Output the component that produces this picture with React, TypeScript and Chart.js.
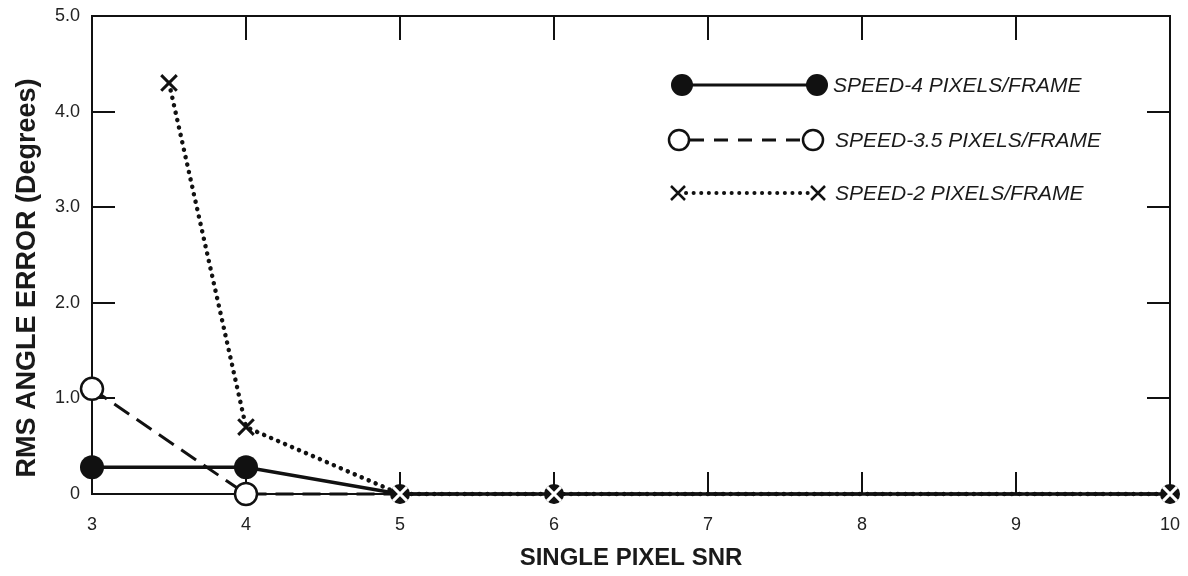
import React, { useEffect, useRef } from 'react';
import { Chart, registerables } from 'chart.js';

Chart.register(...registerables);

const FONT = '"Liberation Sans", Arial, Helvetica, sans-serif';

// ---- data ----
const snrSpeed4 = [3, 4, 5, 6, 10];
const errSpeed4 = [0.28, 0.28, 0, 0, 0];
const snrSpeed35 = [3, 4, 5, 6, 10];
const errSpeed35 = [1.1, 0, 0, 0, 0];
const snrSpeed2 = [3.5, 4, 5, 6, 10];
const errSpeed2 = [4.3, 0.7, 0, 0, 0];
const seriesLabels = ['SPEED-4 PIXELS/FRAME', 'SPEED-3.5 PIXELS/FRAME', 'SPEED-2 PIXELS/FRAME'];
const xTitle = 'SINGLE PIXEL SNR';
const yTitle = 'RMS ANGLE ERROR (Degrees)';
const xRange = [3, 10];
const yRange = [0, 5];

const toPoints = (xs: number[], ys: number[]) => xs.map((x, i) => ({ x, y: ys[i] }));
const isOverlap = (c: any) => c.parsed && c.parsed.x >= 5 && c.parsed.y === 0;

// frame + inward ticks on all four sides
const framePlugin = {
  id: 'frameTicks',
  beforeDatasetsDraw(chart: any) {
    const { ctx, chartArea } = chart;
    const { left, right, top, bottom } = chartArea;
    const xs = chart.scales.x;
    const ys = chart.scales.y;
    ctx.save();
    ctx.strokeStyle = '#111';
    ctx.lineWidth = 2;
    ctx.strokeRect(left, top, right - left, bottom - top);
    ctx.beginPath();
    xs.ticks.forEach((t: any) => {
      if (t.value <= xs.min || t.value >= xs.max) return;
      const px = Math.round(xs.getPixelForValue(t.value));
      ctx.moveTo(px, top);
      ctx.lineTo(px, top + 24);
      ctx.moveTo(px, bottom);
      ctx.lineTo(px, bottom - 22);
    });
    ys.ticks.forEach((t: any) => {
      if (t.value <= ys.min || t.value >= ys.max) return;
      const py = Math.round(ys.getPixelForValue(t.value));
      ctx.moveTo(left, py);
      ctx.lineTo(left + 23, py);
      ctx.moveTo(right, py);
      ctx.lineTo(right - 23, py);
    });
    ctx.stroke();
    ctx.restore();
  },
};

const yTitlePlugin = {
  id: 'yTitle',
  afterDraw(chart: any) {
    const { ctx } = chart;
    ctx.save();
    ctx.translate(28, 278);
    ctx.rotate(-Math.PI / 2);
    ctx.font = `bold 27px ${FONT}`;
    ctx.fillStyle = '#1a1a1a';
    ctx.textAlign = 'center';
    ctx.textBaseline = 'middle';
    ctx.fillText(yTitle, 0, 0);
    ctx.restore();
  },
};

const legendPlugin = {
  id: 'sampleLegend',
  afterDatasetsDraw(chart: any) {
    const { ctx } = chart;
    const rows = [
      { y: 85, x1: 682, x2: 817, tx: 833, kind: 'filled' },
      { y: 140, x1: 679, x2: 813, tx: 835, kind: 'open' },
      { y: 193, x1: 678, x2: 818, tx: 835, kind: 'cross' },
    ];
    ctx.save();
    rows.forEach((r, i) => {
      ctx.strokeStyle = '#111';
      ctx.lineCap = 'butt';
      if (r.kind === 'filled') {
        ctx.lineWidth = 3;
        ctx.setLineDash([]);
        ctx.beginPath();
        ctx.moveTo(r.x1, r.y);
        ctx.lineTo(r.x2, r.y);
        ctx.stroke();
        [r.x1, r.x2].forEach((x) => {
          ctx.beginPath();
          ctx.arc(x, r.y, 11, 0, Math.PI * 2);
          ctx.fillStyle = '#111';
          ctx.fill();
        });
      } else if (r.kind === 'open') {
        ctx.lineWidth = 3;
        ctx.setLineDash([14, 10]);
        ctx.beginPath();
        ctx.moveTo(r.x1 + 11, r.y);
        ctx.lineTo(r.x2 - 11, r.y);
        ctx.stroke();
        ctx.setLineDash([]);
        ctx.lineWidth = 2.5;
        [r.x1, r.x2].forEach((x) => {
          ctx.beginPath();
          ctx.arc(x, r.y, 10, 0, Math.PI * 2);
          ctx.fillStyle = '#fff';
          ctx.fill();
          ctx.stroke();
        });
      } else {
        ctx.lineWidth = 4;
        ctx.lineCap = 'round';
        ctx.setLineDash([0.1, 7.5]);
        ctx.beginPath();
        ctx.moveTo(r.x1 + 8, r.y);
        ctx.lineTo(r.x2 - 8, r.y);
        ctx.stroke();
        ctx.setLineDash([]);
        ctx.lineCap = 'butt';
        ctx.lineWidth = 2.5;
        [r.x1, r.x2].forEach((x) => {
          const d = 7;
          ctx.beginPath();
          ctx.moveTo(x - d, r.y - d);
          ctx.lineTo(x + d, r.y + d);
          ctx.moveTo(x - d, r.y + d);
          ctx.lineTo(x + d, r.y - d);
          ctx.stroke();
        });
      }
      ctx.fillStyle = '#1a1a1a';
      ctx.font = `italic 21px ${FONT}`;
      ctx.textAlign = 'left';
      ctx.textBaseline = 'middle';
      ctx.fillText(seriesLabels[i], r.tx, r.y + 1);
    });
    ctx.restore();
  },
};

export default function App() {
  const ref = useRef<HTMLCanvasElement | null>(null);
  useEffect(() => {
    if (!ref.current) return;
    const chart = new Chart(ref.current, {
      type: 'line',
      data: {
        datasets: [
          {
            label: seriesLabels[0],
            data: toPoints(snrSpeed4, errSpeed4),
            borderColor: '#111',
            backgroundColor: '#111',
            borderWidth: 3.5,
            pointStyle: 'circle',
            pointRadius: (c: any) => (isOverlap(c) ? 10 : 12),
            pointBorderWidth: 0,
            pointBackgroundColor: '#111',
            tension: 0,
            clip: false,
            order: 1,
          },
          {
            label: seriesLabels[1],
            data: toPoints(snrSpeed35, errSpeed35),
            borderColor: '#111',
            backgroundColor: '#fff',
            borderWidth: 3,
            borderDash: [18, 9],
            pointStyle: 'circle',
            pointRadius: (c: any) => (isOverlap(c) ? 8 : 11),
            pointBorderWidth: 2.5,
            pointBorderColor: '#111',
            pointBackgroundColor: '#fff',
            tension: 0,
            clip: false,
            order: 2,
          },
          {
            label: seriesLabels[2],
            data: toPoints(snrSpeed2, errSpeed2),
            borderColor: '#111',
            backgroundColor: '#111',
            borderWidth: 4.5,
            borderDash: [0.1, 7.5],
            borderCapStyle: 'round',
            pointStyle: 'crossRot',
            pointRadius: (c: any) => (isOverlap(c) ? 10 : 11),
            pointBorderWidth: 3,
            pointBorderColor: (c: any) => (isOverlap(c) ? '#fff' : '#111'),
            tension: 0,
            clip: false,
            order: 0,
          },
        ] as any,
      },
      options: {
        animation: false,
        responsive: true,
        maintainAspectRatio: false,
        layout: { padding: { top: 16, right: 18, left: 0, bottom: 0 } },
        plugins: {
          legend: { display: false },
          tooltip: { enabled: false },
        },
        scales: {
          x: {
            type: 'linear',
            min: xRange[0],
            max: xRange[1],
            afterFit: (s: any) => {
              s.height = 82;
              s.paddingLeft = 0;
              s.paddingRight = 0;
            },
            grid: { display: false, drawTicks: false },
            border: { display: false },
            ticks: {
              stepSize: 1,
              padding: 20,
              color: '#222',
              font: { family: FONT, size: 18 },
            },
            title: {
              display: true,
              text: xTitle,
              color: '#1a1a1a',
              font: { family: FONT, size: 24, weight: 'bold' },
              padding: { top: 0, bottom: 3 },
            },
          },
          y: {
            type: 'linear',
            min: yRange[0],
            max: yRange[1],
            afterFit: (s: any) => {
              s.width = 92;
              s.paddingTop = 0;
              s.paddingBottom = 0;
            },
            grid: { display: false, drawTicks: false },
            border: { display: false },
            ticks: {
              stepSize: 1,
              padding: 12,
              color: '#222',
              font: { family: FONT, size: 18 },
              callback: (v: any) => (Number(v) === 0 ? '0' : Number(v).toFixed(1)),
            },
          },
        },
      } as any,
      plugins: [framePlugin, legendPlugin, yTitlePlugin],
    });
    return () => chart.destroy();
  }, []);

  return (
    <div style={{ position: 'absolute', left: 0, top: 0, width: 1188, height: 576, background: '#fff' }}>
      <canvas ref={ref} />
    </div>
  );
}
